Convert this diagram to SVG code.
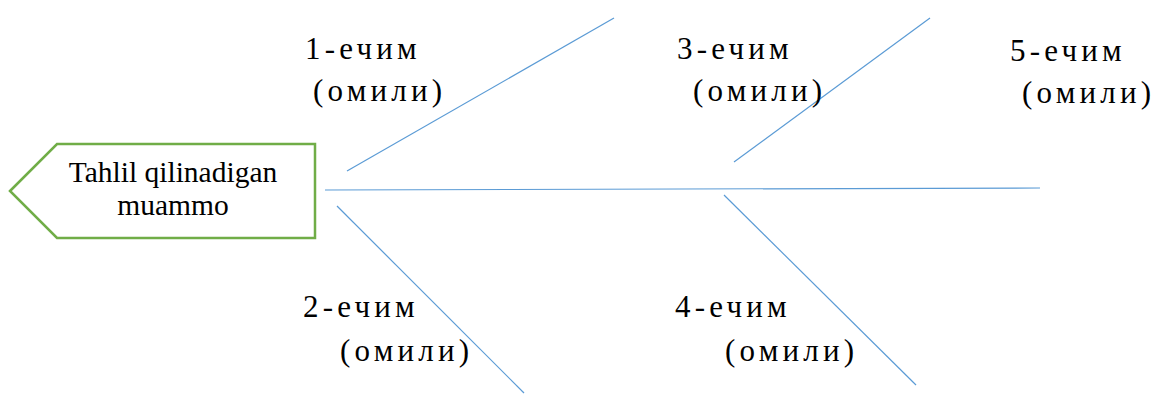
<svg xmlns="http://www.w3.org/2000/svg" width="1157" height="394" viewBox="0 0 1157 394">
<style>
.bone{stroke:#5b9bd5;stroke-width:1.2;fill:none}
</style>
<rect width="1157" height="394" fill="#fff"/>
<g id="connectors">
<line class="bone" x1="325" y1="190" x2="1040" y2="188"/>
<line class="bone" x1="347" y1="171" x2="614" y2="18"/>
<line class="bone" x1="734" y1="162" x2="930" y2="18"/>
<line class="bone" x1="337" y1="206" x2="524" y2="393"/>
<line class="bone" x1="724" y1="195" x2="916" y2="385"/>
</g>
<g id="head" font-family="Liberation Serif, Times New Roman, serif" font-size="29.5">
<polygon points="10,191 57,144 315,144 315,238 57,238" fill="#fff" stroke="#70ad47" stroke-width="2.5"/>
<text x="173" y="182" text-anchor="middle">Tahlil qilinadigan</text>
<text x="173" y="215" text-anchor="middle">muammo</text>
</g>
<g font-family="Liberation Serif, Times New Roman, serif" font-size="31" letter-spacing="4.2">
<g id="cause1">
<text x="305" y="59">1-ечим</text>
<text x="313" y="101">(омили)</text>
</g>
<g id="cause3">
<text x="677" y="59">3-ечим</text>
<text x="693" y="101">(омили)</text>
</g>
<g id="cause5">
<text x="1010" y="61">5-ечим</text>
<text x="1022" y="103">(омили)</text>
</g>
<g id="cause2">
<text x="303" y="317">2-ечим</text>
<text x="340" y="361">(омили)</text>
</g>
<g id="cause4">
<text x="675" y="317">4-ечим</text>
<text x="725" y="361">(омили)</text>
</g>
</g>
</svg>
